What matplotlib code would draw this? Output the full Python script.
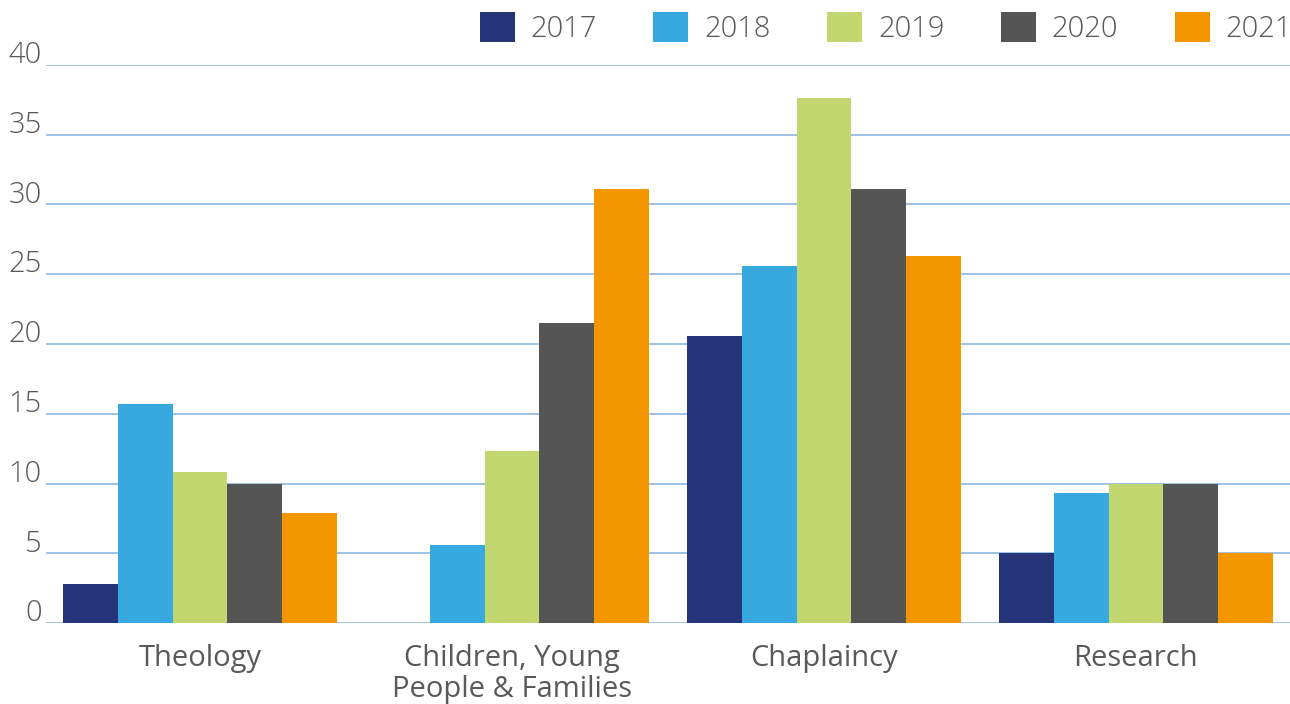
import matplotlib
matplotlib.use("Agg")
import matplotlib.pyplot as plt
import numpy as np
from matplotlib.transforms import ScaledTranslation
from matplotlib.patches import Patch

categories = ["Theology", "Children, Young\nPeople & Families", "Chaplaincy", "Research"]
years = ["2017", "2018", "2019", "2020", "2021"]
values_2017 = [2.8, 0, 20.6, 5]
values_2018 = [15.7, 5.6, 25.6, 9.3]
values_2019 = [10.8, 12.3, 37.6, 10]
values_2020 = [10, 21.5, 31.1, 10]
values_2021 = [7.9, 31.1, 26.3, 5]
yticks = [0, 5, 10, 15, 20, 25, 30, 35, 40]

series = [values_2017, values_2018, values_2019, values_2020, values_2021]
colors = ["#26347A", "#37A9DF", "#C3D771", "#555555", "#F39600"]

plt.rcParams['font.family'] = ['Open Sans', 'DejaVu Sans']
text_color = "#595959"
grid_color = "#9DC3E6"

fig = plt.figure(figsize=(12.9, 7.04), dpi=100)
ax = fig.add_axes([46/1290, 1 - 623/704, 1 - 46/1290, (623 - 65)/704])

x = np.arange(len(categories))
bw = 0.1756
for i, (vals, c) in enumerate(zip(series, colors)):
    ax.bar(x + (i - 2) * bw, vals, width=bw, color=c, zorder=3, linewidth=0)

ax.set_xlim(-0.494, 3.494)
ax.set_ylim(0, 40)
ax.set_yticks(yticks)
ax.set_yticklabels([str(t) for t in yticks])
ax.yaxis.grid(True, color=grid_color, linewidth=1.4, zorder=1)
ax.set_axisbelow(True)
for s in ax.spines.values():
    s.set_visible(False)
ax.tick_params(axis='both', length=0)
ax.tick_params(axis='y', pad=3, labelsize=21, labelcolor=text_color)
ax.tick_params(axis='x', pad=15, labelsize=21, labelcolor=text_color)
ax.set_xticks(x)
ax.set_xticklabels(categories, linespacing=1.12)
for lab in ax.get_yticklabels():
    lab.set_fontweight('light')
    lab.set_transform(lab.get_transform() + ScaledTranslation(0, 13/100, fig.dpi_scale_trans))

handles = [Patch(facecolor=c, edgecolor='none') for c in colors]
leg = fig.legend(handles, years, ncol=5, loc='upper right',
                 bbox_to_anchor=(1.0 + 2/1290, 1.0 - 12/704),
                 frameon=False, fontsize=21, handlelength=1.2, handleheight=1.2,
                 handletextpad=0.55, columnspacing=1.93, borderaxespad=0.0, borderpad=0.0)
for t in leg.get_texts():
    t.set_color(text_color)
    t.set_fontweight('light')

fig.savefig("out.png", dpi=100)
